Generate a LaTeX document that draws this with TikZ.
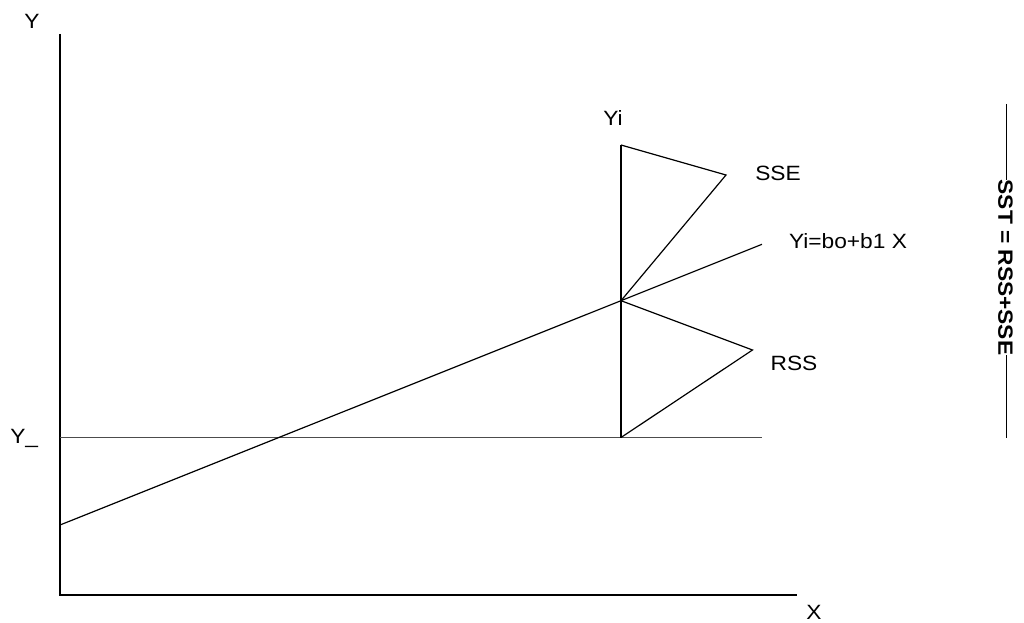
\documentclass[tikz,border=0pt]{standalone}
\usepackage{fontspec}
\setmainfont{Liberation Sans}[FakeStretch=1.1]
\begin{document}
\begin{tikzpicture}[x=0.75pt,y=-0.75pt,
  every node/.style={inner sep=0pt,font=\fontsize{15.5}{17}\selectfont},
  lbl/.style={anchor=base},
  ln/.style={line width=0.9pt,black},
  meanln/.style={line width=1.1pt,black!70}]
\useasboundingbox (0,0) rectangle (1024,623);
% points
\coordinate (ytop) at (60,34);
\coordinate (O) at (60,595);
\coordinate (xend) at (797,595);
\coordinate (m0) at (60,437.5);
\coordinate (m1) at (762,437.5);
\coordinate (r0) at (60,525);
\coordinate (r1) at (762,244.3);
\coordinate (yi) at (621,145);
\coordinate (yhat) at (621,300.7);
\coordinate (ybar) at (621,437.5);
\coordinate (sse) at (726,175);
\coordinate (rss) at (752.5,350);
\coordinate (st) at (1006.5,104);
\coordinate (sb) at (1006.5,438);
% axes
\draw[ln] (ytop) -- (O) -- (xend);
% mean line
\draw[meanln] (m0) -- (m1);
% regression line
\draw[ln] (r0) -- (yhat) -- (r1);
% vertical deviation
\draw[ln] (yi) -- (ybar);
% triangles
\draw[ln] (yi) -- (sse) -- (yhat);
\draw[ln] (yhat) -- (rss) -- (ybar);
% labels
\node[lbl] (lY) at (32,29) {Y};
\node[lbl] (lX) at (814,619) {X};
\node[lbl,anchor=base west] (lYbar) at (10,443) {Y\_};
\node[lbl] (lYi) at (613,126) {Yi};
\node[lbl] (lSSE) at (778,181) {SSE};
\node[lbl] (lreg) at (848,249) {Yi=bo+b1 X};
\node[lbl] (lRSS) at (794,371) {RSS};
% SST
\draw[ln] (st) -- (sb);
\node[rotate=-90,fill=white,font=\fontsize{15.5}{17}\selectfont\bfseries] (sst) at (1005.5,267.5) {SST = RSS+SSE};
\end{tikzpicture}
\end{document}
